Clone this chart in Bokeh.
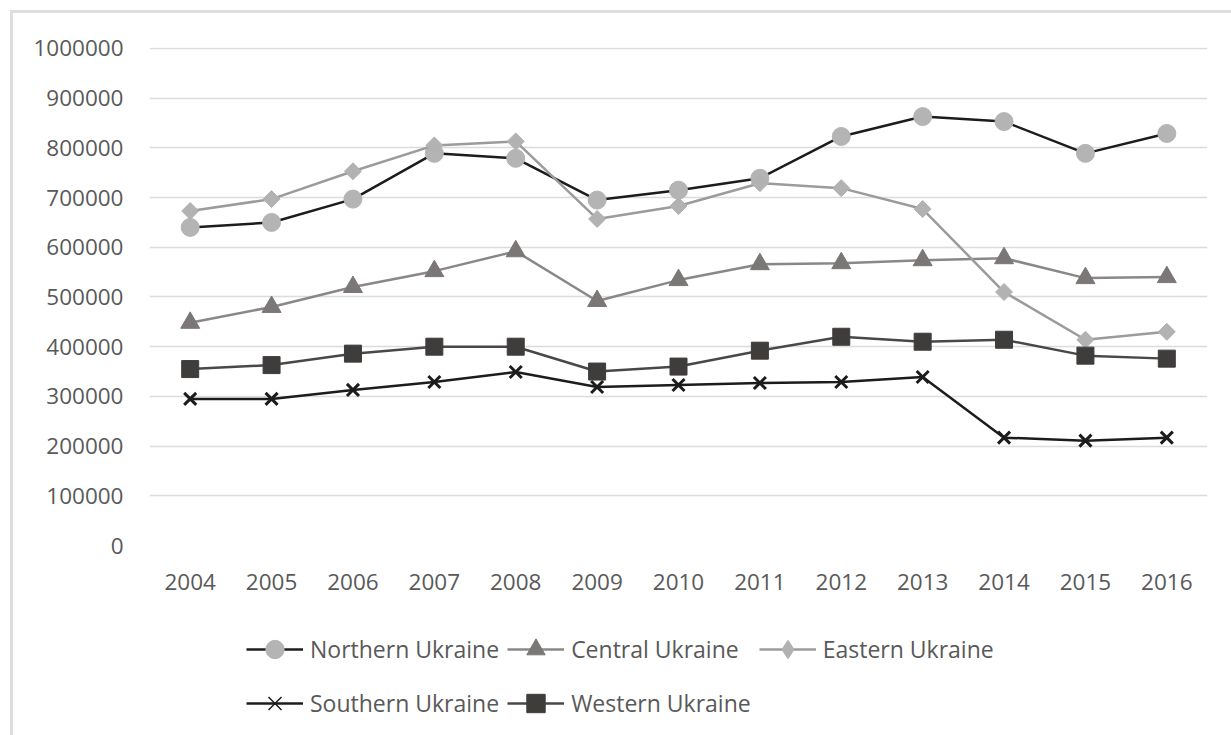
import math
from bokeh.plotting import figure
from bokeh.layouts import column
from bokeh.models import Range1d, FixedTicker, BasicTickFormatter, Legend, LegendItem
from bokeh.embed import file_html
from bokeh.resources import INLINE

years = [2004, 2005, 2006, 2007, 2008, 2009, 2010, 2011, 2012, 2013, 2014, 2015, 2016]
northern = [640000, 650000, 697000, 789000, 779000, 695000, 715000, 739000, 823000, 863000, 853000, 789000, 829000]
central = [448000, 480000, 520000, 552000, 592000, 492000, 534000, 566000, 568000, 574000, 578000, 538000, 540000]
eastern = [673000, 697000, 753000, 805000, 813000, 657000, 683000, 729000, 719000, 677000, 510000, 414000, 430000]
southern = [295000, 295000, 313000, 329000, 349000, 319000, 323000, 327000, 329000, 339000, 217000, 211000, 217000]
western = [355000, 363000, 386000, 400000, 400000, 350000, 360000, 392000, 420000, 410000, 414000, 382000, 376000]
y_ticks = [0, 100000, 200000, 300000, 400000, 500000, 600000, 700000, 800000, 900000, 1000000]

FONT = "Open Sans"
TXT = "#595959"

p = figure(width=1218, height=600, output_backend="svg", toolbar_location=None,
           x_range=Range1d(2003.5, 2016.5), y_range=Range1d(0, 1002000),
           min_border_left=136, min_border_right=24, min_border_top=34, min_border_bottom=68)
p.outline_line_color = None
p.background_fill_color = "white"
p.border_fill_color = "white"

p.xgrid.grid_line_color = None
p.ygrid.grid_line_color = "#dcdcdc"
p.ygrid.grid_line_width = 1.5

p.yaxis.ticker = FixedTicker(ticks=y_ticks)
p.yaxis.formatter = BasicTickFormatter(use_scientific=False)
p.xaxis.ticker = FixedTicker(ticks=years)
for ax in (p.xaxis, p.yaxis):
    ax.axis_line_color = None
    ax.major_tick_line_color = None
    ax.minor_tick_line_color = None
    ax.major_tick_out = 0
    ax.major_tick_in = 0
    ax.minor_tick_out = 0
    ax.major_label_text_font = FONT
    ax.major_label_text_font_size = "22.5px"
    ax.major_label_text_color = TXT
p.yaxis.major_label_standoff = 26
p.xaxis.major_label_standoff = 28

# name, values, line colour, chart marker, marker colour, chart size, angle, legend marker, legend size
series = [
    ("Northern Ukraine", northern, "#1c1c1c", "circle", "#b4b4b4", 18, 0, "circle", 14),
    ("Central Ukraine", central, "#8a8787", "triangle", "#7b7777", 19, 0, "triangle", 15),
    ("Eastern Ukraine", eastern, "#9b9b9b", "square", "#b2b2b2", 12, math.pi / 4, "diamond", 17),
    ("Southern Ukraine", southern, "#1c1c1c", "x", "#1c1c1c", 17, 0, "x", 14),
    ("Western Ukraine", western, "#4a4747", "square", "#3f3c3c", 17, 0, "square", 14),
]

# legend strip below the chart
pl = figure(width=1218, height=122, output_backend="svg", toolbar_location=None,
            x_range=Range1d(0, 1), y_range=Range1d(0, 1),
            x_axis_location=None, y_axis_location=None,
            min_border_left=0, min_border_right=0, min_border_top=0, min_border_bottom=0)
pl.outline_line_color = None
pl.xgrid.visible = False
pl.ygrid.visible = False
pl.border_fill_color = "white"

def draw(fig, vals, lc, marker, mc, size, ang, lw_x):
    r1 = fig.line(years, vals, line_color=lc, line_width=2.5)
    if marker == "x":
        r2 = fig.scatter(years, vals, marker="x", size=size, line_color=mc, line_width=lw_x)
    else:
        r2 = fig.scatter(years, vals, marker=marker, size=size, angle=ang,
                         fill_color=mc, line_color=mc)
    return r1, r2

items = []
for name, vals, lc, marker, mc, size, ang, lmarker, lsize in series:
    draw(p, vals, lc, marker, mc, size, ang, 3)
    r1, r2 = draw(pl, vals, lc, lmarker, mc, lsize, 0, 1.5)
    items.append(LegendItem(label=name, renderers=[r1, r2]))

legend = Legend(items=items, location=(97, 9), orientation="horizontal", ncols=3,
                label_text_font=FONT, label_text_font_size="23px", label_text_color=TXT,
                glyph_width=57, glyph_height=46, label_height=46, label_standoff=7,
                spacing=8, padding=0, margin=0, border_line_color=None,
                background_fill_alpha=0)
pl.add_layout(legend, "center")

layout = column(p, pl, spacing=0,
                styles={"margin-left": "10px", "margin-top": "10px",
                        "border-left": "3px solid #dedede", "border-top": "3px solid #dedede"})

open("out.html", "w").write(file_html(layout, INLINE))
